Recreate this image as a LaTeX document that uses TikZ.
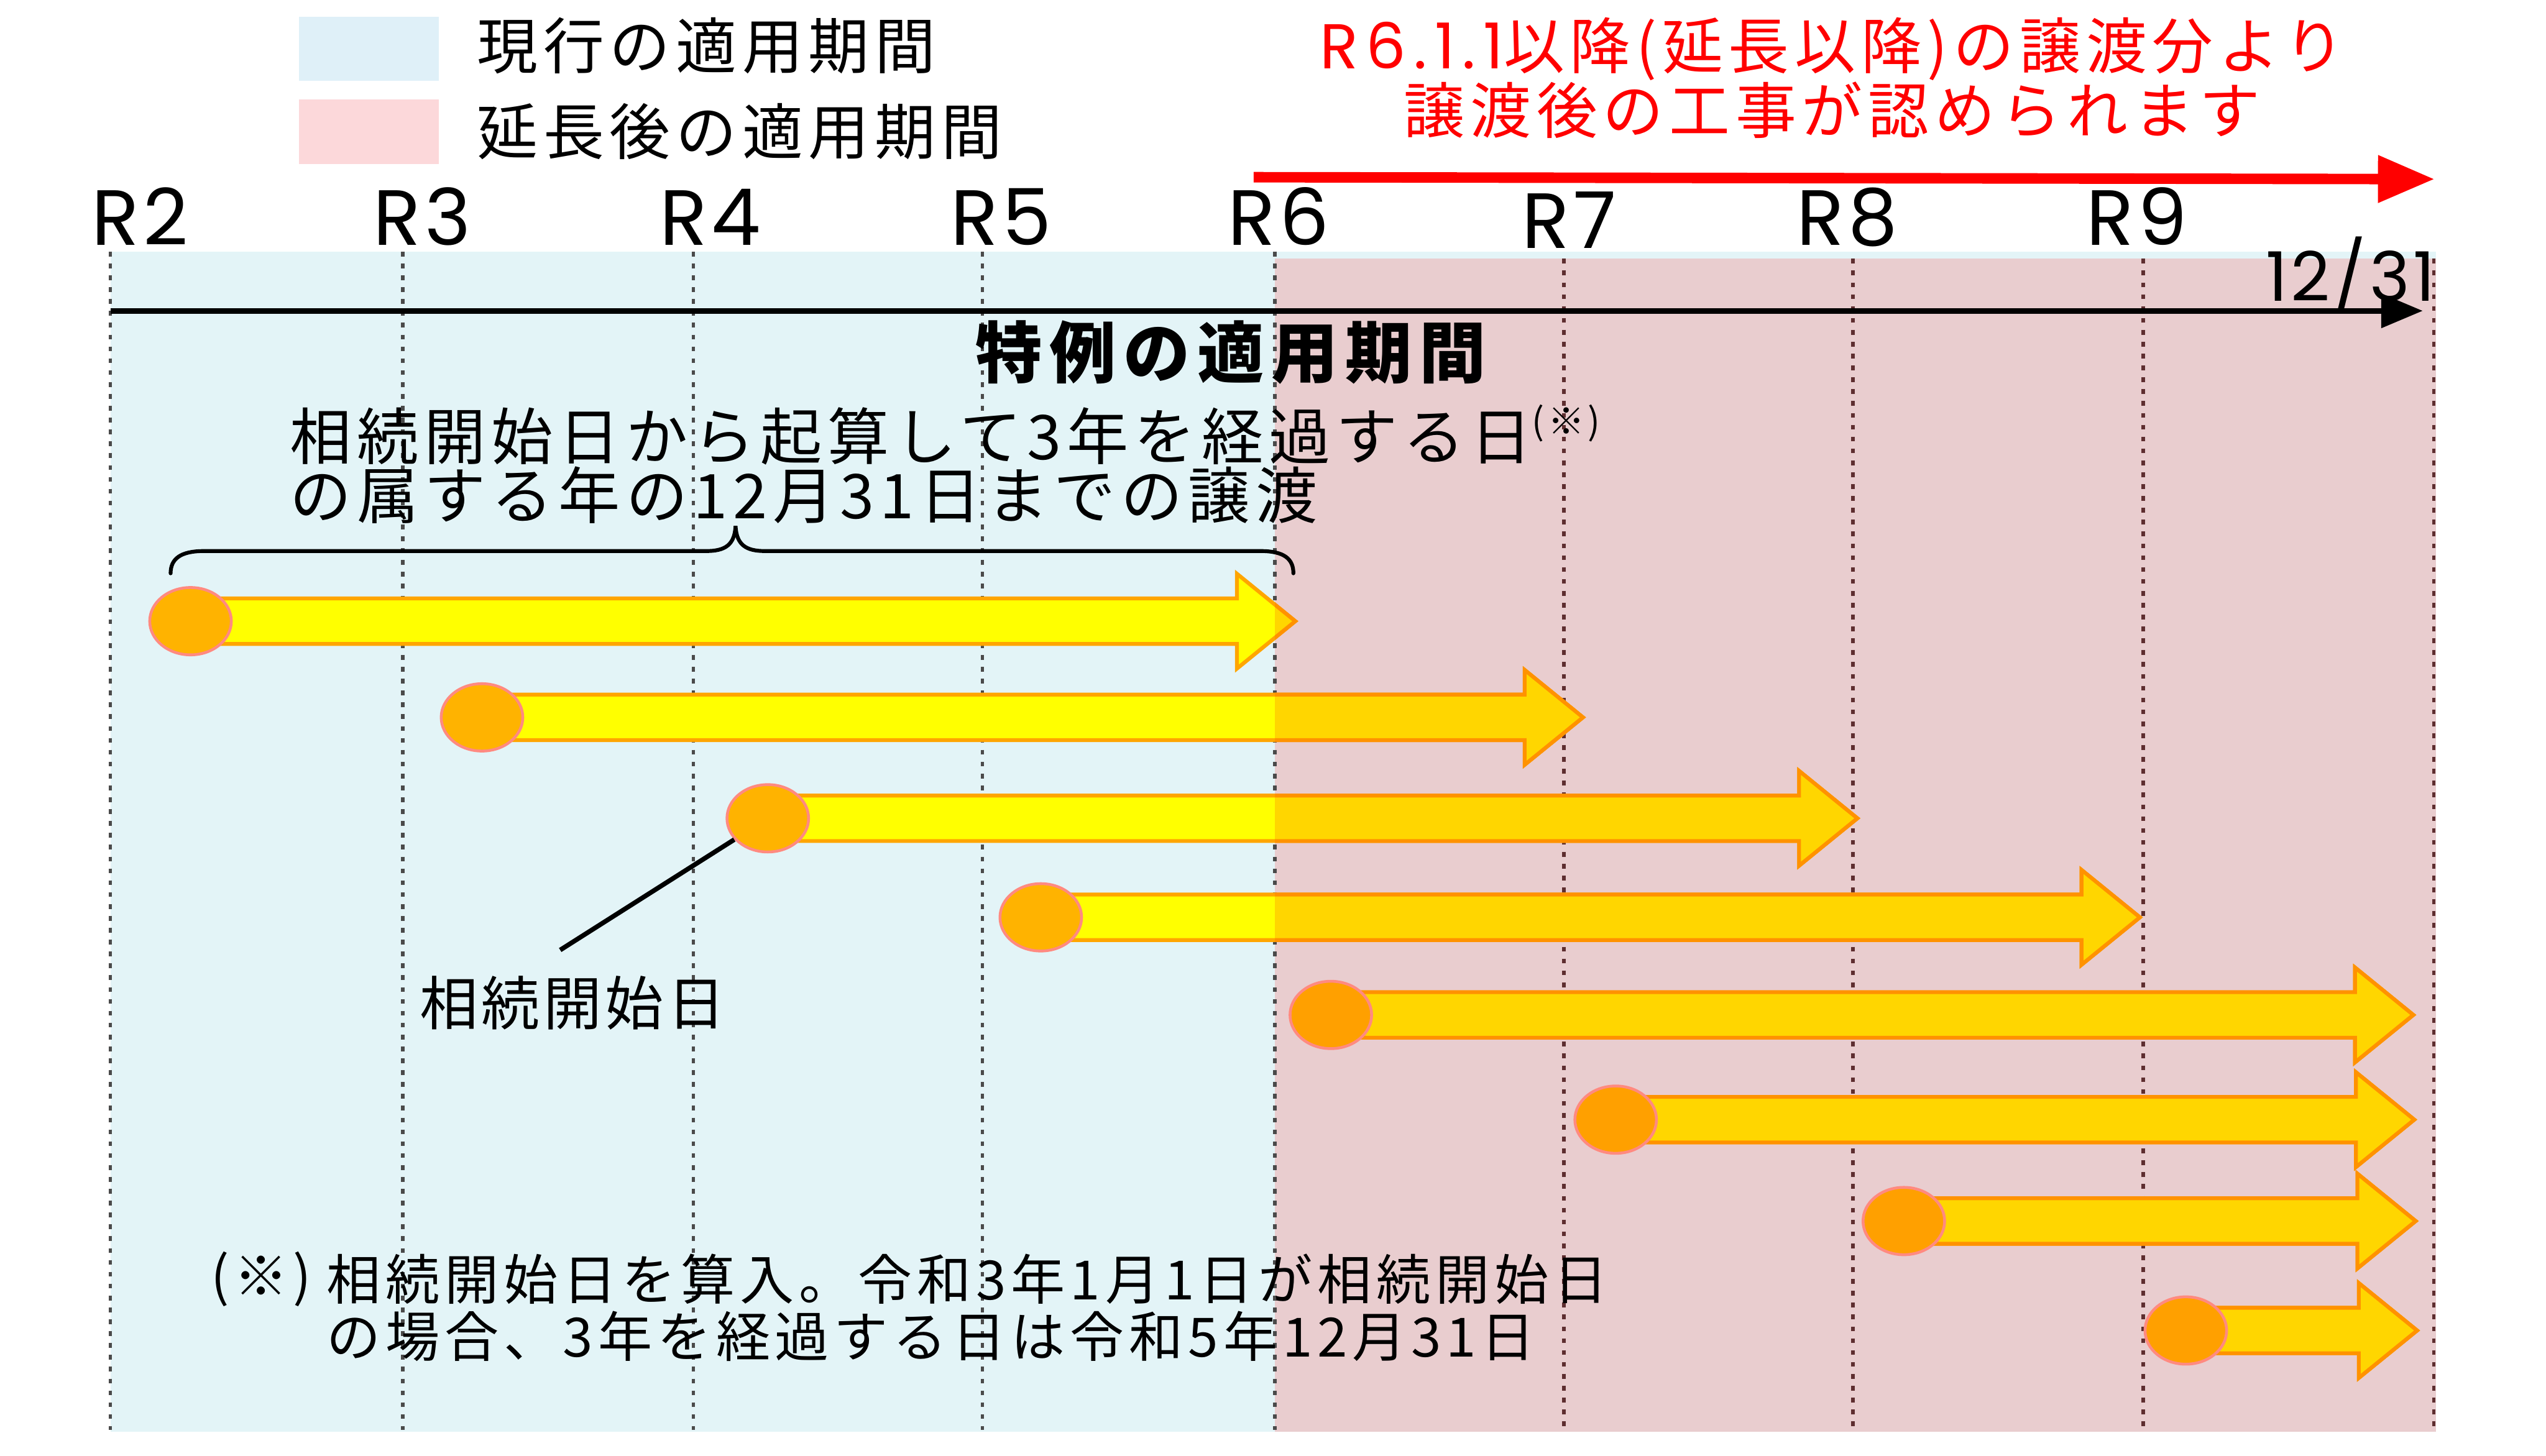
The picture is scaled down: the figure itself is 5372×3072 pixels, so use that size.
\documentclass[tikz,border=0pt]{standalone}
\usepackage{fontspec}
\setmainfont{Noto Sans CJK JP}
\newfontfamily\jpA{Noto Sans CJK JP}[LetterSpace=9]
\newfontfamily\jpN{Noto Sans CJK JP}[LetterSpace=9]
\newfontfamily\jpL{Noto Sans CJK JP}[LetterSpace=6]
\newfontfamily\jpH{Noto Sans CJK JP}[LetterSpace=11]
\newfontfamily\popA{Poppins}[LetterSpace=5]
\newfontfamily\popR{Poppins}[LetterSpace=12]
\usetikzlibrary{arrows.meta,shapes.geometric,calc}
\definecolor{bgblue}{HTML}{E3F4F7}
\definecolor{bgpink}{HTML}{E9CDCF}
\definecolor{lgblue}{HTML}{DFF0F8}
\definecolor{lgpink}{HTML}{FCD8DA}
\definecolor{yel}{HTML}{FFFF00}
\definecolor{gold}{HTML}{FFD600}
\definecolor{outA}{HTML}{FFA500}
\definecolor{outB}{HTML}{FF9200}
\definecolor{circA}{HTML}{FFB300}
\definecolor{circB}{HTML}{FFA000}
\definecolor{circEdge}{HTML}{FF8A80}
\definecolor{dotgray}{HTML}{4A4A4A}
\definecolor{dotred}{HTML}{5E2E30}
\newcommand\blockarrow[4]{%
  \path[fill=#3,draw=#4,line width=2.3pt,line join=miter]
    ($(#1)+(0,-48)$) -- ($(#2)+(-123,-48)$) -- ($(#2)+(-123,-100)$) -- (#2)
    -- ($(#2)+(-123,100)$) -- ($(#2)+(-123,48)$) -- ($(#1)+(0,48)$) -- cycle;}
\begin{document}
\begin{tikzpicture}[x=0.01cm,y=-0.01cm,
  lgtxt/.style={inner sep=0pt,anchor=west,font=\jpA\fontsize{36.5}{42}\selectfont},
  redtxt/.style={inner sep=0pt,text=red,font=\jpA\fontsize{36.5}{42}\selectfont},
  rlab/.style={inner sep=0pt,anchor=base,font=\popA\fontsize{47}{50}\selectfont},
  maintxt/.style={inner sep=0pt,anchor=west,font=\jpA\fontsize{37}{42}\selectfont},
  notetxt/.style={inner sep=0pt,anchor=west,font=\jpN\fontsize{32.5}{38}\selectfont},
  gridline/.style={line width=2.1pt,dash pattern=on 2.85pt off 4.27pt},
  dotA/.style={ellipse,draw=circEdge,fill=circA,line width=1.7pt,minimum width=1.72cm,minimum height=1.42cm,inner sep=0pt},
  dotB/.style={dotA,fill=circB}]
\useasboundingbox (0,0) rectangle (5372,3072);
\fill[white] (0,0) rectangle (5372,3072);
% legend
\fill[lgblue] (631,35) rectangle (926,171);
\fill[lgpink] (631,210) rectangle (926,346);
\node[lgtxt] (lg1) at (1006,96) {現行の適用期間};
\node[lgtxt] (lg2) at (1006,277) {延長後の適用期間};
% red message
\node[redtxt] (rt1) at (3866,103) {{\popR\fontsize{38}{42}\selectfont R6.1.1}以降(延長以降)の譲渡分より};
\node[redtxt] (rt2) at (3866,232) {譲渡後の工事が認められます};
\coordinate (ra) at (2645,374);
\coordinate (rb) at (5137,378);
\draw[red,line width=6.3pt,-{Triangle[length=34pt,width=27pt]}] (ra) -- (rb);
% backgrounds
\fill[bgblue] (233,531) rectangle (5140,3022);
\fill[bgpink] (2690,546) rectangle (5140,3022);
% grid lines
\foreach \x in {233,850,1463,2073,2690}
  \draw[gridline,dotgray] (\x,531) -- (\x,3018);
\foreach \x in {3300,3910,4522,5135}
  \draw[gridline,dotred] (\x,546) -- (\x,3018);
% year labels
\node[rlab] (r2) at (296,517) {R2};
\node[rlab] (r3) at (891,517) {R3};
\node[rlab] (r4) at (1499,517) {R4};
\node[rlab] (r5) at (2112,517) {R5};
\node[rlab] (r6) at (2698,517) {R6};
\node[rlab] (r7) at (3311,524) {R7};
\node[rlab] (r8) at (3897,517) {R8};
\node[rlab] (r9) at (4509,517) {R9};
\node[inner sep=0pt,anchor=base west,font=\popA\fontsize{41}{44}\selectfont] (end) at (4780,636) {12/31};
% period arrow
\coordinate (ta) at (233,656);
\coordinate (tb) at (5112,656);
\draw[line width=3.4pt,-{Triangle[length=25pt,width=20pt]}] (ta) -- (tb);
\node[inner sep=0pt,font=\jpH\bfseries\fontsize{40}{44}\selectfont] (tokurei) at (2597,743) {特例の適用期間};
% explanation
\node[maintxt] (ex1) at (611,918) {相続開始日から起算して3年を経過する日\raisebox{0.4em}{\fontsize{22}{24}\selectfont(※)}};
\node[maintxt] (ex2) at (611,1045) {の属する年の12月31日までの譲渡};
% brace
\coordinate (bl) at (360,1210);
\coordinate (br) at (2729,1210);
\draw[line width=2.3pt,line cap=round]
  (bl) .. controls (360,1180) and (380,1163) .. (430,1163) -- (1490,1163)
  .. controls (1530,1163) and (1550,1150) .. (1552,1110)
  .. controls (1554,1150) and (1574,1163) .. (1614,1163) -- (2660,1163)
  .. controls (2710,1163) and (2729,1180) .. (br);
% yellow arrows
\coordinate (c1) at (402,1311);  \coordinate (e1) at (2733,1311);
\coordinate (c2) at (1017,1514); \coordinate (e2) at (3340,1514);
\coordinate (c3) at (1620,1727); \coordinate (e3) at (3919,1727);
\coordinate (c4) at (2196,1936); \coordinate (e4) at (4515,1936);
\coordinate (c5) at (2808,2142); \coordinate (e5) at (5092,2142);
\coordinate (c6) at (3409,2363); \coordinate (e6) at (5094,2363);
\coordinate (c7) at (4017,2577); \coordinate (e7) at (5097,2577);
\coordinate (c8) at (4612,2808); \coordinate (e8) at (5100,2808);
\foreach \i in {1,...,8}{\blockarrow{c\i}{e\i}{yel}{outA}}
\begin{scope}
  \clip (2690,0) rectangle (5372,3072);
  \foreach \i in {1,...,8}{\blockarrow{c\i}{e\i}{gold}{outB}}
\end{scope}
\node[dotA] (s1) at (c1) {};
\node[dotA] (s2) at (c2) {};
\node[dotA] (s3) at (c3) {};
\node[dotA] (s4) at (c4) {};
\node[dotB] (s5) at (c5) {};
\node[dotB] (s6) at (c6) {};
\node[dotB] (s7) at (c7) {};
\node[dotB] (s8) at (c8) {};
% start-date label
\node[inner sep=0pt,font=\jpL\fontsize{35}{40}\selectfont] (lbl) at (1208,2117) {相続開始日};
\coordinate (ld) at (1182,2005);
\draw[line width=2.8pt] (ld) -- (s3);
% note
\node[notetxt] (n0) at (444,2700) {(※)};
\node[notetxt] (n1) at (689,2700) {相続開始日を算入。令和3年1月1日が相続開始日};
\node[notetxt] (n2) at (689,2820) {の場合、3年を経過する日は令和5年12月31日};
\end{tikzpicture}
\end{document}
